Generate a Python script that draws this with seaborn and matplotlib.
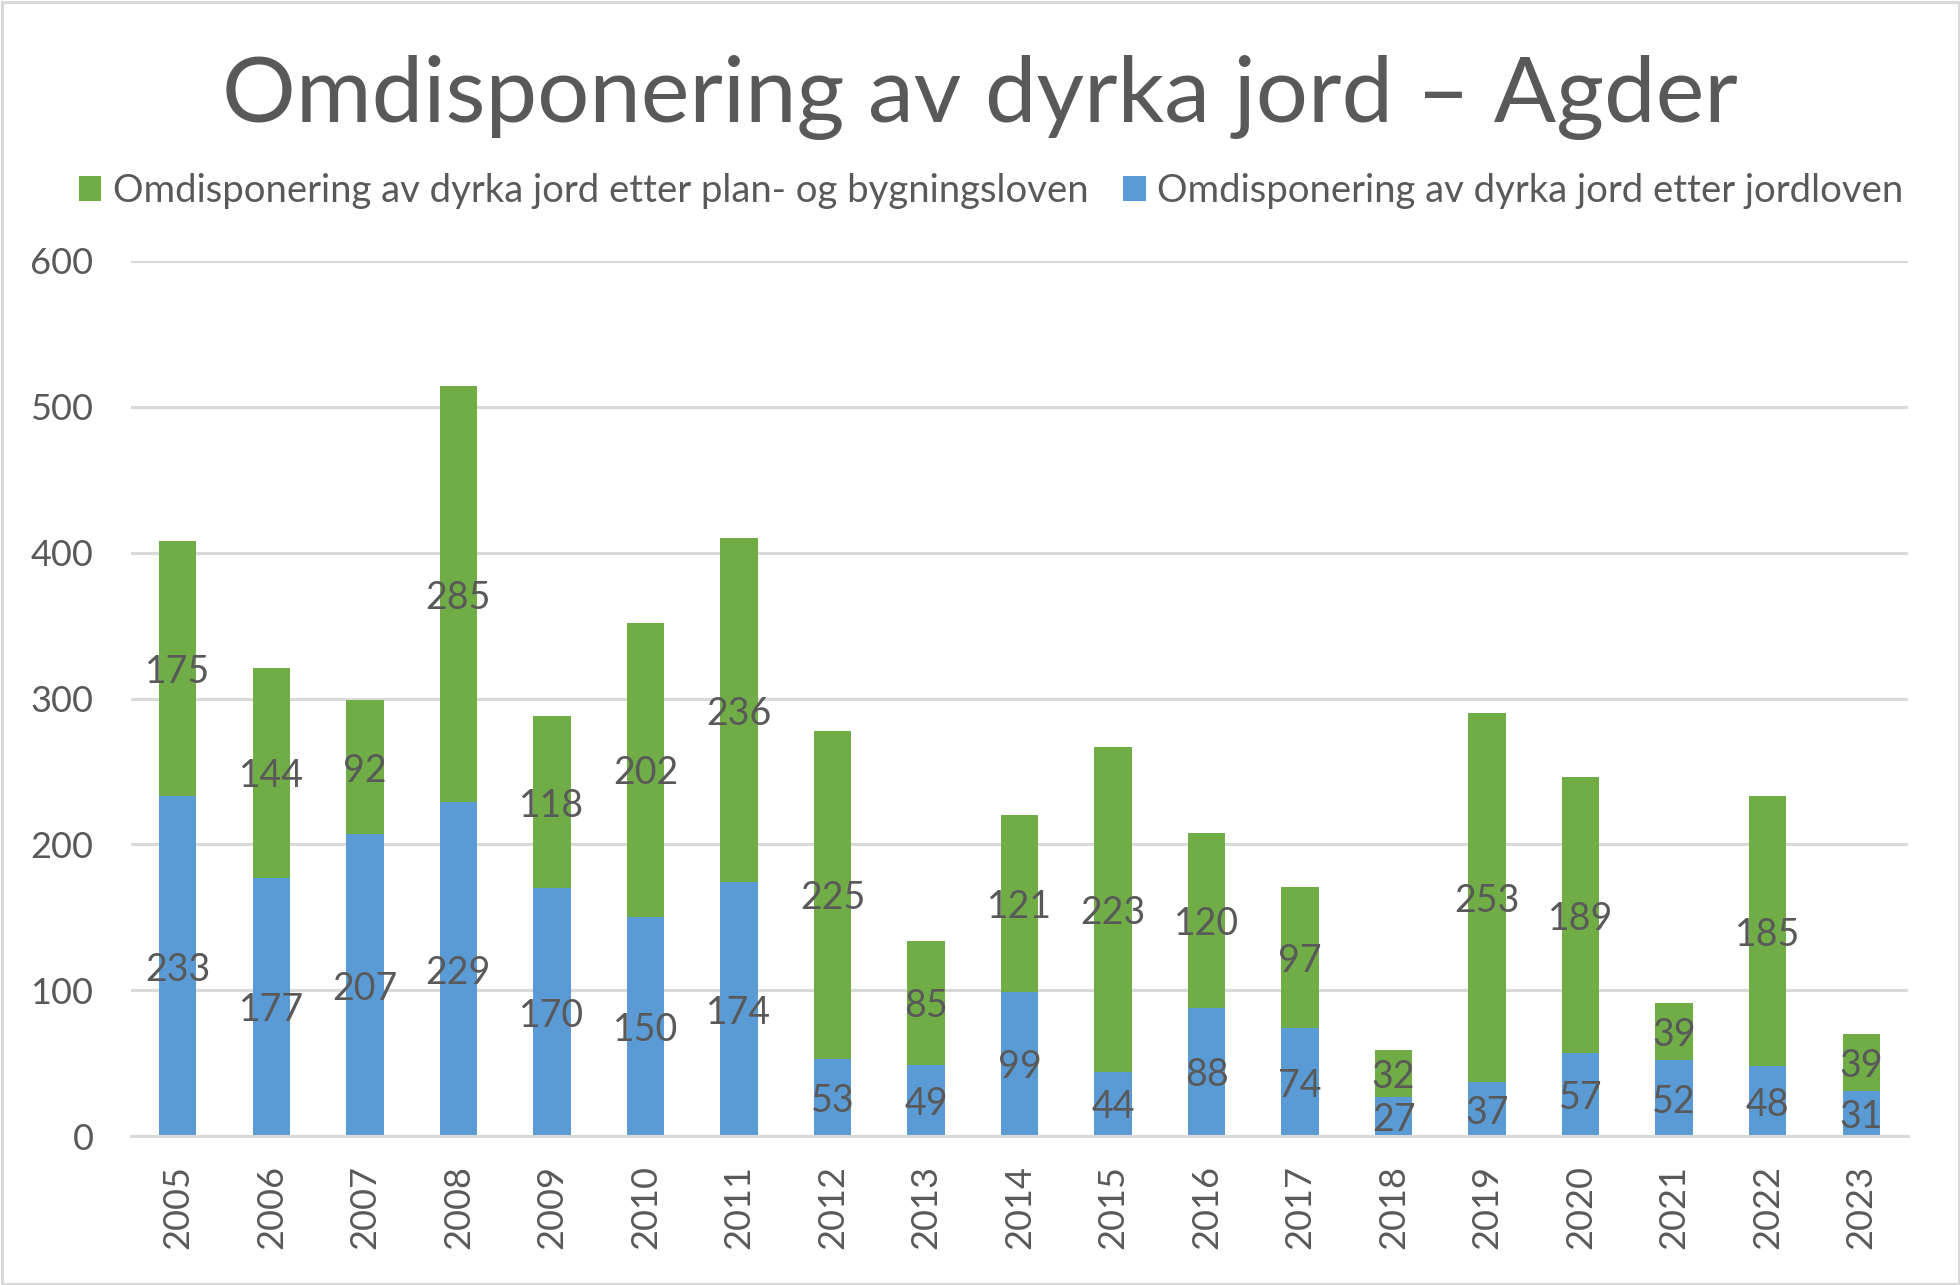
import matplotlib
matplotlib.use("Agg")
import matplotlib.pyplot as plt
import seaborn as sns
import pandas as pd
from matplotlib.patches import Patch, Rectangle

years = ["2005", "2006", "2007", "2008", "2009", "2010", "2011", "2012", "2013", "2014",
         "2015", "2016", "2017", "2018", "2019", "2020", "2021", "2022", "2023"]
jordloven = [233, 177, 207, 229, 170, 150, 174, 53, 49, 99, 44, 88, 74, 27, 37, 57, 52, 48, 31]
pbl = [175, 144, 92, 285, 118, 202, 236, 225, 85, 121, 223, 120, 97, 32, 253, 189, 39, 185, 39]
y_ticks = [0, 100, 200, 300, 400, 500, 600]

title = "Omdisponering av dyrka jord – Agder"
label_pbl = "Omdisponering av dyrka jord etter plan- og bygningsloven"
label_jl = "Omdisponering av dyrka jord etter jordloven"

GREEN = "#70AD47"
BLUE = "#5B9BD5"
TXT = "#595959"
GRID = "#D9D9D9"

sns.set_theme(style="white")
plt.rcParams["font.family"] = ["Lato", "DejaVu Sans"]

df = pd.DataFrame({"year": years, "jl": jordloven, "pbl": pbl})
df["total"] = df["jl"] + df["pbl"]

W, H = 1960, 1285
fig = plt.figure(figsize=(W / 100, H / 100), dpi=100)
ax = fig.add_axes([131 / W, 1 - 1136 / H, (1908 - 131) / W, (1136 - 261) / H])

sns.barplot(data=df, x="year", y="total", color=GREEN, width=0.4, saturation=1,
            ax=ax, zorder=3, linewidth=0)
sns.barplot(data=df, x="year", y="jl", color=BLUE, width=0.4, saturation=1,
            ax=ax, zorder=4, linewidth=0)

ax.set_ylim(0, 600)
ax.set_xlim(-0.5, len(years) - 0.5)
ax.set_yticks(y_ticks)
ax.set_xlabel("")
ax.set_ylabel("")
ax.yaxis.grid(True, color=GRID, linewidth=2.2, zorder=0)
ax.xaxis.grid(False)
for s in ["top", "right", "left"]:
    ax.spines[s].set_visible(False)
ax.spines["bottom"].set_color(GRID)
ax.spines["bottom"].set_linewidth(2.2)
ax.spines["bottom"].set_zorder(5)
ax.tick_params(axis="y", length=0, pad=27, labelsize=26, labelcolor=TXT)
ax.tick_params(axis="x", length=0, pad=21, labelsize=26, labelcolor=TXT, rotation=90)

# data labels
for i, (b, g) in enumerate(zip(jordloven, pbl)):
    ax.text(i, b / 2, str(b), ha="center", va="center_baseline", fontsize=27, color=TXT, zorder=6)
    ax.text(i, b + g / 2, str(g), ha="center", va="center_baseline", fontsize=27, color=TXT, zorder=6)

fig.text(0.5, 1 - 122 / H, title, ha="center", va="baseline", fontsize=66.3, color=TXT)

handles = [Patch(facecolor=GREEN, edgecolor="none"), Patch(facecolor=BLUE, edgecolor="none")]
fig.legend(handles, [label_pbl, label_jl], loc="center",
           bbox_to_anchor=(991 / W, 1 - 191 / H), ncol=2, frameon=False,
           fontsize=27.5, labelcolor=TXT, handlelength=0.6, handleheight=0.6,
           handletextpad=0.3, columnspacing=0.9, borderaxespad=0, borderpad=0)

fig.patches.append(Rectangle((1.5 / W, 1.5 / H), 1 - 3 / W, 1 - 3 / H, transform=fig.transFigure,
                             fill=False, edgecolor=GRID, linewidth=2.2))

fig.savefig("out.png", dpi=100)
